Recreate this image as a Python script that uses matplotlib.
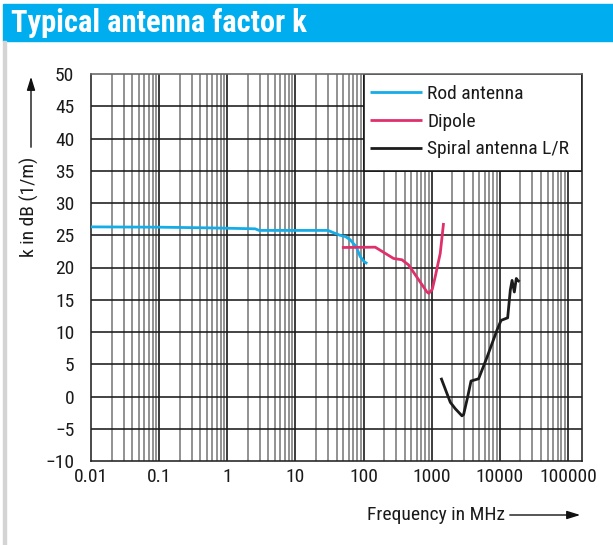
import matplotlib
matplotlib.use("Agg")
import matplotlib.pyplot as plt
from matplotlib.patches import Rectangle
from matplotlib import font_manager
import numpy as np

# ---- data ----
rod_f = [0.01, 0.1, 0.5, 2.56, 2.93, 10, 30, 38, 45, 54, 63.5, 78, 89, 102, 113]
rod_k = [26.3, 26.25, 26.15, 26.0, 25.75, 25.75, 25.75, 25.3, 25.0, 24.8, 24.3, 23.2, 21.7, 20.9, 20.6]

dip_f = [48, 148, 275, 365, 456, 851, 904, 1016, 1125, 1331, 1489]
dip_k = [23.1, 23.15, 21.4, 21.2, 20.4, 16.2, 16.0, 16.6, 18.6, 22.2, 26.9]

spi_f = [1365, 1870, 2215, 2775, 2930, 3356, 3765, 4870, 6470, 9060, 10380, 12980,
         14200, 15070, 16270, 17380, 18200, 19450]
spi_k = [2.9, -0.9, -1.9, -3.0, -2.8, -0.1, 2.4, 2.75, 6.1, 10.3, 11.8, 12.2,
         16.5, 18.0, 16.2, 18.3, 18.0, 17.8]

series_names = ["Rod antenna", "Dipole", "Spiral antenna L/R"]
series_colors = ["#14ade8", "#e0306c", "#1c1c1c"]

x_ticks = [0.01, 0.1, 1, 10, 100, 1000, 10000, 100000]
x_ticklabels = ["0.01", "0.1", "1", "10", "100", "1000", "10000", "100000"]
y_ticks = list(range(-10, 51, 5))
y_ticklabels = [("\u2212%d" % -v) if v < 0 else str(v) for v in y_ticks]

title = "Typical antenna factor k"
ylabel = "k in dB (1/m)"
xlabel = "Frequency in MHz"

# ---- font selection ----
installed = {f.name for f in font_manager.fontManager.ttflist}
narrow = None
for cand in ["Liberation Sans Narrow", "Roboto Condensed", "Open Sans Condensed",
             "DejaVu Sans Condensed", "Liberation Sans"]:
    if cand in installed:
        narrow = cand
        break
fams = [narrow, "DejaVu Sans"] if narrow else ["DejaVu Sans"]
plt.rcParams['font.family'] = fams
is_narrow = narrow in ("Liberation Sans Narrow", "Roboto Condensed",
                       "Open Sans Condensed", "DejaVu Sans Condensed")
fs = 14 if is_narrow else 12.5
tfs = 22 if is_narrow else 16.5
txtc = "#1a1a1a"

W, H = 613, 545
fig = plt.figure(figsize=(W / 100, H / 100), dpi=100)

def fx(px):
    return px / W

def fy(py):
    return 1 - py / H

# title bar
fig.patches.append(Rectangle((fx(3), fy(41)), 1 - fx(3), fy(4) - fy(41),
                             transform=fig.transFigure, color="#00aeef", zorder=0))
fig.text(fx(11), fy(23), title, color="white", fontsize=tfs, fontweight="bold",
         va="center", ha="left")
# left grey border
fig.patches.append(Rectangle((fx(3), 0), fx(3), fy(41),
                             transform=fig.transFigure, color="#d4d4d4", zorder=0))

ax = fig.add_axes([fx(91), fy(461), fx(582) - fx(91), fy(74) - fy(461)])
ax.set_xscale("log")
xmax = 1.6e5
ax.set_xlim(0.01, xmax)
ax.set_ylim(-10, 50)

# grid
minor = []
for d in range(-2, 6):
    for m in range(2, 10):
        v = m * 10.0 ** d
        if v < xmax:
            minor.append(v)
for v in minor:
    ax.axvline(v, color="#7a7a7a", lw=1.15, zorder=1)
for v in x_ticks[1:]:
    ax.axvline(v, color="#111111", lw=1.15, zorder=1.2)
for v in y_ticks[1:-1]:
    ax.axhline(v, color="#1a1a1a", lw=1.15, zorder=1.2)

# legend box covering grid
ax.add_patch(Rectangle((100, 35), xmax - 100, 15, facecolor="white",
                       edgecolor="#111111", lw=1.15, zorder=2))

for f, k, c, n in zip([rod_f, dip_f, spi_f], [rod_k, dip_k, spi_k], series_colors, series_names):
    ax.plot(f, k, color=c, lw=2.0, zorder=3, label=n, solid_capstyle="butt",
            solid_joinstyle="round", clip_on=False)

leg = ax.legend(loc="upper left", bbox_to_anchor=(fx(370), fy(85)),
                bbox_transform=fig.transFigure, frameon=False, fontsize=fs,
                handlelength=2.65, handletextpad=0.3, labelspacing=0.5,
                borderaxespad=0, borderpad=0)
for t in leg.get_texts():
    t.set_color(txtc)

ax.set_xticks(x_ticks)
ax.set_xticklabels(x_ticklabels)
ax.set_xticks([], minor=True)
ax.set_yticks(y_ticks)
ax.set_yticklabels(y_ticklabels)
ax.tick_params(axis="both", length=0, labelsize=fs, colors=txtc)
ax.tick_params(axis="x", pad=5)
ax.tick_params(axis="y", pad=12)
for s in ax.spines.values():
    s.set_color("#222222")
    s.set_linewidth(1.15)
ax.spines["top"].set_color("#666666")

# y label with arrow
fig.text(fx(29), fy(207), ylabel, rotation=90, ha="center", va="center",
         fontsize=fs, color=txtc)
ax.annotate("", xy=(fx(31), fy(74)), xytext=(fx(31), fy(150)),
            xycoords="figure fraction", textcoords="figure fraction",
            arrowprops=dict(arrowstyle="-|>,head_length=0.8,head_width=0.25",
                            color="#111111", lw=1.0))
# x label with arrow
fig.text(fx(505), fy(515), xlabel, ha="right", va="center", fontsize=fs, color=txtc)
ax.annotate("", xy=(fx(583), fy(515)), xytext=(fx(507), fy(515)),
            xycoords="figure fraction", textcoords="figure fraction",
            arrowprops=dict(arrowstyle="-|>,head_length=0.8,head_width=0.25",
                            color="#111111", lw=1.0))

fig.savefig("out.png", dpi=100)
